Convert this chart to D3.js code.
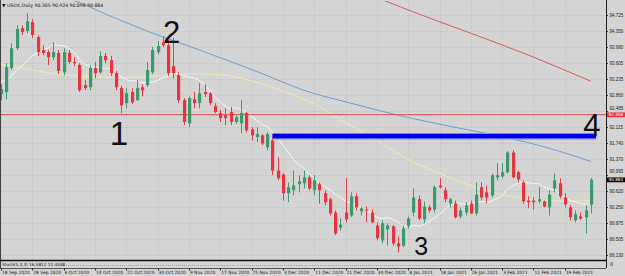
<!DOCTYPE html>
<meta charset="utf-8">
<style>
body { margin: 0; background: #d4d4d4; }
svg { display: block; font-family: "DejaVu Sans", Arial, sans-serif; }
.grid line { stroke: #c4c4c4; stroke-width: 1; stroke-dasharray: 1,1; shape-rendering: crispEdges; }
.yaxis path { display: none; }
.yaxis line { stroke: #222; }
.yaxis text { font-size: 4.5px; fill: #222; }
.note { font-family: "Liberation Sans", Arial, sans-serif; fill: #111; }
</style>
<body>
<script src="https://cdn.jsdelivr.net/npm/d3@7"></script>
<script>
// USDX daily, 18 Sep 2020 .. 26 Feb 2021 (one value per bar)
var open = [92.88,92.93,93.49,93.95,94.42,94.35,94.56,94.21,93.91,93.86,
  93.74,93.84,93.39,93.84,93.63,93.56,93.09,93.04,93.49,93.39,
  93.77,93.67,93.37,93.02,92.67,92.93,92.74,93.04,93.09,93.39,
  93.86,94.09,94.02,93.53,93.32,92.74,92.20,92.76,92.67,92.93,
  92.90,92.60,92.44,92.39,92.46,92.23,92.20,92.44,92.06,91.88,
  91.92,91.64,91.80,91.10,91.01,90.57,90.64,90.78,90.80,90.94,
  90.64,90.78,90.57,90.43,90.12,89.77,90.12,90.05,90.50,90.15,
  90.19,90.12,89.82,89.47,89.73,89.80,89.40,89.35,89.80,90.12,
  90.43,89.96,90.24,90.19,90.75,90.64,90.33,90.33,90.03,90.12,
  90.33,90.10,90.71,90.59,90.52,90.94,90.96,91.06,91.52,91.06,
  90.82,90.40,90.40,90.38,90.38,90.24,90.68,90.80,90.47,90.24,
  89.94,90.03,90.01,90.305];
var high = [93.11,93.60,94.07,94.49,94.49,94.77,94.63,94.26,94.02,93.91,
  94.09,93.91,93.95,93.91,93.74,93.60,93.21,93.56,93.63,93.88,
  93.84,93.77,93.42,93.07,93.02,93.02,93.21,93.11,93.63,93.98,
  94.12,94.23,94.14,94.19,93.39,92.79,92.83,92.93,93.14,93.11,
  92.93,92.67,92.51,92.55,92.58,92.39,92.74,92.46,92.11,92.11,
  91.95,91.99,91.85,91.41,91.03,90.82,91.10,90.99,91.10,90.99,
  90.99,90.82,90.64,90.47,90.17,89.98,90.92,90.59,90.57,90.26,
  90.26,90.19,89.89,89.94,89.87,89.82,89.56,89.82,90.03,90.68,
  90.52,90.38,90.29,90.75,90.92,90.71,90.47,90.40,90.24,90.36,
  90.40,90.82,90.82,90.75,91.03,91.27,91.27,91.55,91.57,91.10,
  90.87,90.50,90.47,90.71,90.40,90.64,91.03,90.92,90.57,90.29,
  90.17,90.12,90.29,90.924];
var low = [92.74,92.76,93.44,93.91,94.26,94.30,94.19,93.77,93.79,93.56,
  93.67,93.35,93.32,93.58,93.53,92.93,92.97,92.97,93.25,93.35,
  93.60,93.30,92.97,92.44,92.55,92.65,92.72,92.83,93.04,93.35,
  93.81,93.98,93.30,93.25,92.67,92.16,92.11,92.55,92.55,92.81,
  92.62,92.44,92.23,92.16,92.16,92.18,91.97,91.99,91.80,91.76,
  91.69,91.57,90.99,90.87,90.40,90.36,90.52,90.59,90.68,90.64,
  90.52,90.33,90.29,90.05,89.59,89.70,89.89,90.01,90.17,90.05,
  89.89,89.87,89.47,89.40,89.35,89.35,89.19,89.31,89.75,90.03,
  89.94,89.87,90.12,90.12,90.68,90.36,90.24,89.98,89.98,90.05,
  90.08,90.05,90.40,90.33,90.47,90.87,90.92,91.03,90.92,90.82,
  90.33,90.22,90.19,90.33,90.24,90.05,90.59,90.45,90.24,89.94,
  89.89,89.94,89.63,90.098];
var close = [93.00,93.51,93.95,94.40,94.33,94.58,94.26,93.86,93.84,93.74,
  93.86,93.42,93.86,93.63,93.60,92.97,93.02,93.49,93.37,93.77,
  93.67,93.37,93.04,92.62,92.90,92.69,93.02,92.97,93.44,93.91,
  94.00,94.02,93.37,93.37,92.74,92.23,92.79,92.67,92.90,92.88,
  92.67,92.46,92.32,92.32,92.23,92.34,92.44,92.04,91.92,91.95,
  91.73,91.95,91.10,90.92,90.57,90.71,90.75,90.85,90.94,90.68,
  90.87,90.64,90.36,90.10,89.63,89.84,89.96,90.50,90.24,90.22,
  90.17,89.89,89.52,89.87,89.82,89.40,89.33,89.75,89.98,90.47,
  89.98,90.26,90.17,90.71,90.71,90.43,90.43,90.01,90.17,90.29,
  90.10,90.54,90.47,90.47,90.99,90.99,91.06,91.52,90.94,90.89,
  90.38,90.36,90.36,90.43,90.26,90.54,90.87,90.50,90.31,90.01,
  90.08,89.98,90.17,90.884];

// white fast average, one value per bar
var maFast = [93.16,93.21,93.30,93.44,93.53,93.67,93.77,93.84,93.91,93.95,
  94.03,94.02,94.01,93.94,93.86,93.70,93.58,93.54,93.50,93.50,
  93.48,93.48,93.39,93.29,93.22,93.19,93.19,93.14,93.15,93.16,
  93.20,93.26,93.29,93.37,93.35,93.31,93.28,93.25,93.20,93.10,
  92.96,92.81,92.70,92.60,92.55,92.56,92.52,92.46,92.36,92.27,
  92.17,92.12,92.00,91.86,91.69,91.53,91.36,91.24,91.15,91.02,
  90.93,90.80,90.73,90.65,90.55,90.47,90.39,90.35,90.28,90.24,
  90.17,90.09,90.01,89.98,90.00,89.96,89.90,89.82,89.80,89.82,
  89.80,89.84,89.91,89.99,90.08,90.18,90.29,90.31,90.33,90.31,
  90.32,90.35,90.38,90.36,90.39,90.45,90.51,90.66,90.74,90.80,
  90.83,90.81,90.80,90.79,90.72,90.67,90.66,90.55,90.49,90.40,
  90.37,90.33,90.31,90.36];

// slower averages, read at a few bars
var maYellowBars = [0,6,12,18,24,30,36,42,48,54,60,66,72,78,84,90,96,102,108,113];
var maYellow = [93.58,93.44,93.33,93.28,93.27,93.30,93.36,93.33,93.19,92.95,92.65,92.22,91.80,91.36,91.03,90.75,90.54,90.42,90.39,90.40];
var maBlueBars = [10,14,20,28,38,50,58,67,76,86,96,105,113];
var maBlue = [95.20,95.06,94.75,94.35,93.91,93.36,92.97,92.67,92.39,92.13,91.89,91.62,91.31];
var maRedBars = [66,73,80,90,100,113];
var maRed = [95.39,95.08,94.75,94.30,93.84,93.18];

var yTicks = [94.725,94.350,93.980,93.605,93.235,92.860,92.485,92.115,91.740,91.370,90.995,90.620,90.250,89.875,89.505,89.130];
var yTickLabels = ["94.725","94.350","93.980","93.605","93.235","92.860","92.485","92.115","91.740","91.370","90.995","90.620","90.250","89.875","89.505","89.130"];
var xTickLabels = ["18 Sep 2020","28 Sep 2020","6 Oct 2020","14 Oct 2020","22 Oct 2020","30 Oct 2020","9 Nov 2020","17 Nov 2020","25 Nov 2020","3 Dec 2020","11 Dec 2020","21 Dec 2020","30 Dec 2020","8 Jan 2021","18 Jan 2021","26 Jan 2021","3 Feb 2021","11 Feb 2021","19 Feb 2021"];

var redLevel = 92.40, redLabel = "92.406";
var blueLevel = 91.90, blueFrom = 52, blueTo = 114;
var lastLabel = "90.884";
var header = "\u25BC USDX,Daily 90.305 90.924 90.098 90.884";
var subHeader = "Stoch(5,3,3) 16.5812 11.4348";
var notes = [{t:"1", bar:22.6, v:91.70, size:33}, {t:"2", bar:32.7, v:94.08, size:31},
             {t:"3", bar:80.5, v:89.12, size:25}, {t:"4", bar:113.2, v:91.90, size:31}];

var width = 625, height = 276, plotRight = 606, plotBottom = 260;

var x = d3.scaleLinear().domain([0, 113]).range([1, 590.9]);
var y = d3.scaleLinear().domain([89.130, 94.725]).range([255, 15]);

var svg = d3.select("body").append("svg")
  .attr("width", width)
  .attr("height", height);

svg.append("rect").attr("width", width).attr("height", height).attr("fill", "#d4d4d4");

svg.append("clipPath").attr("id", "plotclip")
  .append("rect").attr("x", 1).attr("y", 1).attr("width", plotRight - 1).attr("height", plotBottom - 1);

// grid
var grid = svg.append("g").attr("class", "grid");
grid.selectAll(".h").data(yTicks).enter().append("line")
  .attr("x1", 1).attr("x2", plotRight)
  .attr("y1", function(d) { return Math.round(y(d)) + 0.5; })
  .attr("y2", function(d) { return Math.round(y(d)) + 0.5; });
grid.selectAll(".v").data(xTickLabels).enter().append("line")
  .attr("x1", function(d, i) { return Math.round(x(i * 6)) + 0.5; })
  .attr("x2", function(d, i) { return Math.round(x(i * 6)) + 0.5; })
  .attr("y1", 1).attr("y2", plotBottom);

var plot = svg.append("g").attr("clip-path", "url(#plotclip)");

// moving averages
var line = d3.line()
  .x(function(d) { return x(d[0]); })
  .y(function(d) { return y(d[1]); })
  .curve(d3.curveMonotoneX);

function pairs(bars, vals) { return bars.map(function(b, i) { return [b, vals[i]]; }); }

plot.append("path").attr("d", line(pairs(maRedBars, maRed)))
  .attr("fill", "none").attr("stroke", "#d6605a").attr("stroke-width", 1);
plot.append("path").attr("d", line(pairs(maBlueBars, maBlue)))
  .attr("fill", "none").attr("stroke", "#6d9fd4").attr("stroke-width", 1);
plot.append("path").attr("d", line(pairs(maYellowBars, maYellow)))
  .attr("fill", "none").attr("stroke", "#eee9a8").attr("stroke-width", 1);
plot.append("path").attr("d", line(maFast.map(function(v, i) { return [i, v]; })))
  .attr("fill", "none").attr("stroke", "#f6f6f6").attr("stroke-width", 1);

// red horizontal level
plot.append("line")
  .attr("x1", 1).attr("x2", plotRight)
  .attr("y1", y(redLevel)).attr("y2", y(redLevel))
  .attr("stroke", "#d84848").attr("stroke-width", 1);

// blue drawn level
plot.append("line")
  .attr("x1", x(blueFrom)).attr("x2", x(blueTo))
  .attr("y1", y(blueLevel)).attr("y2", y(blueLevel))
  .attr("stroke", "#7a86f5").attr("stroke-width", 6.5);
plot.append("line")
  .attr("x1", x(blueFrom)).attr("x2", x(blueTo))
  .attr("y1", y(blueLevel)).attr("y2", y(blueLevel))
  .attr("stroke", "#0000e6").attr("stroke-width", 4.2);

// candles
var candles = plot.selectAll(".candle").data(close).enter().append("g");
candles.append("line")
  .attr("x1", function(d, i) { return Math.round(x(i)) + 0.5; })
  .attr("x2", function(d, i) { return Math.round(x(i)) + 0.5; })
  .attr("y1", function(d, i) { return y(high[i]); })
  .attr("y2", function(d, i) { return y(low[i]); })
  .attr("stroke", function(d, i) { return close[i] >= open[i] ? "#3f9c6e" : "#e0404a"; })
  .attr("stroke-width", 1);
candles.append("rect")
  .attr("x", function(d, i) { return Math.round(x(i)) - 1; })
  .attr("width", 3.2)
  .attr("y", function(d, i) { return y(Math.max(open[i], close[i])); })
  .attr("height", function(d, i) { return Math.max(1, Math.abs(y(open[i]) - y(close[i]))); })
  .attr("fill", function(d, i) { return close[i] >= open[i] ? "#3a9a6a" : "#e8343f"; });

// hand written marks
svg.selectAll(".note").data(notes).enter().append("text")
  .attr("class", "note")
  .attr("x", function(d) { return x(d.bar); })
  .attr("y", function(d) { return y(d.v); })
  .attr("text-anchor", "middle")
  .style("font-size", function(d) { return d.size + "px"; })
  .text(function(d) { return d.t; });

// frames
svg.append("line").attr("x1", 0.5).attr("x2", 0.5).attr("y1", 0).attr("y2", 268).attr("stroke", "#444");
svg.append("line").attr("x1", plotRight + 0.5).attr("x2", plotRight + 0.5).attr("y1", 0).attr("y2", 268).attr("stroke", "#222");
svg.append("line").attr("x1", 0).attr("x2", plotRight).attr("y1", plotBottom + 0.5).attr("y2", plotBottom + 0.5).attr("stroke", "#111").attr("stroke-width", 1.5);
svg.append("line").attr("x1", 0).attr("x2", plotRight).attr("y1", 268.5).attr("y2", 268.5).attr("stroke", "#555");

// price axis
var yAxis = svg.append("g")
  .attr("class", "yaxis")
  .attr("transform", "translate(" + plotRight + ",0)")
  .call(d3.axisRight(y).tickValues(yTicks).tickSize(2).tickPadding(1.5)
    .tickFormat(function(d, i) { return yTickLabels[i]; }));
// labels sitting just above a price box are lifted a little
yAxis.selectAll(".tick text").attr("dy", function(d) {
  return (d === 92.485 || d === 90.995) ? "-0.45em" : "0.32em";
});

function priceBox(v, label, bg) {
  svg.append("rect").attr("x", plotRight + 1).attr("y", y(v) - 2.3).attr("width", 18).attr("height", 4.8).attr("fill", bg);
  svg.append("text").attr("x", plotRight + 2.5).attr("y", y(v) + 0.2).attr("dy", "0.35em")
    .style("font-size", "4.2px").attr("fill", "#fff").text(label);
}
priceBox(redLevel, redLabel, "#e8343f");
priceBox(close[close.length - 1], lastLabel, "#000");

// header
svg.append("text").attr("x", 2).attr("y", 7).style("font-size", "4.6px").attr("fill", "#111").text(header);

// indicator sub window
svg.append("line").attr("x1", 60).attr("x2", 540).attr("y1", 265.5).attr("y2", 265.5)
  .attr("stroke", "#a8a8a8").attr("stroke-dasharray", "1,1");
svg.append("text").attr("x", 2).attr("y", 265.5).style("font-size", "4.2px").attr("fill", "#111").text(subHeader);
svg.append("text").attr("x", 610).attr("y", 266).style("font-size", "5px").attr("fill", "#111").text("0");

// time axis
var xt = svg.append("g");
xt.selectAll("line").data(xTickLabels).enter().append("line")
  .attr("x1", function(d, i) { return Math.round(x(i * 6)) + 0.5; })
  .attr("x2", function(d, i) { return Math.round(x(i * 6)) + 0.5; })
  .attr("y1", 268).attr("y2", 270.5).attr("stroke", "#333");
xt.selectAll("text").data(xTickLabels).enter().append("text")
  .attr("x", function(d, i) { return x(i * 6) + 1; })
  .attr("y", 274)
  .style("font-size", "4.4px").attr("fill", "#111")
  .text(function(d) { return d; });
</script>
</body>
